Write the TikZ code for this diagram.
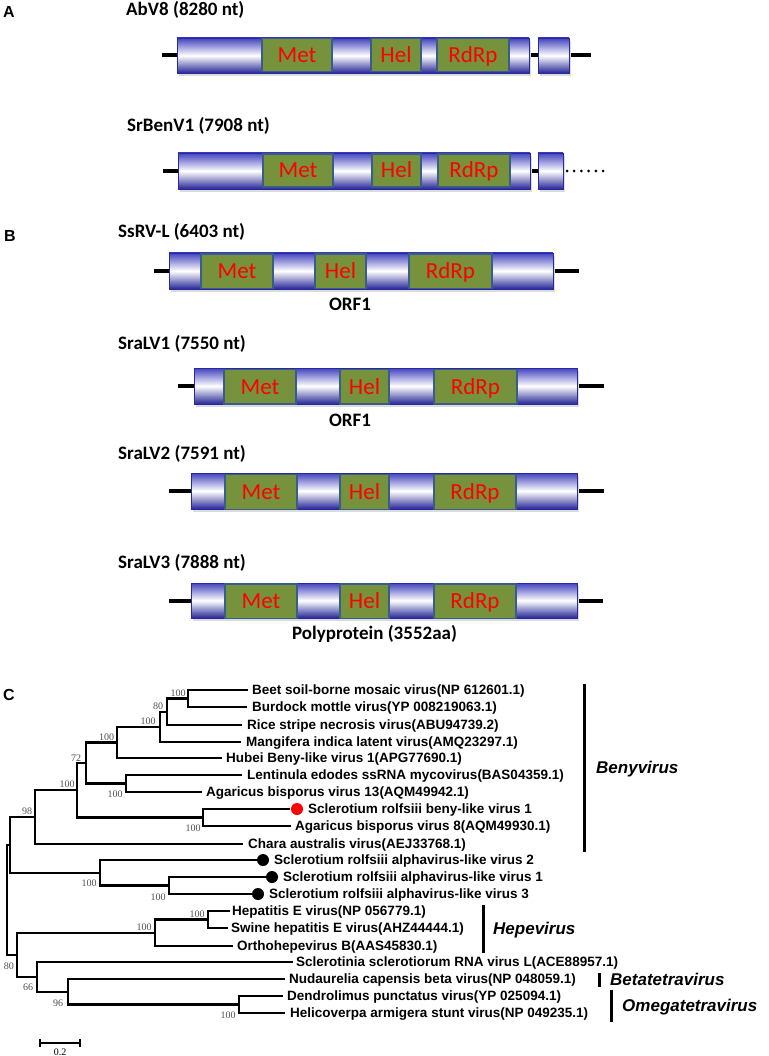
\documentclass[tikz,border=0pt]{standalone}
\usepackage{fontspec}
\newfontfamily\carlito{Carlito}
\newfontfamily\libsans{Liberation Sans}
\newfontfamily\libserif{Liberation Serif}
\definecolor{bartop}{RGB}{66,66,190}
\definecolor{barbot}{RGB}{38,38,150}
\definecolor{baredge}{RGB}{40,40,160}
\definecolor{domgreen}{RGB}{118,146,60}
\definecolor{domedge}{RGB}{56,93,138}
\definecolor{bsgray}{RGB}{80,80,80}
\tikzset{
  lab/.style={font=\carlito\bfseries\fontsize{19}{22}\selectfont, anchor=west, inner sep=0pt, text height=12.2pt, text depth=0pt},
  labc/.style={lab, anchor=center},
  dom/.style={font=\carlito\fontsize{23}{26}\selectfont, text=red, inner sep=0pt, text height=14.8pt, text depth=0pt},
  leaf/.style={font=\libsans\bfseries\fontsize{13.5}{16}\selectfont, anchor=west, inner sep=0pt, text height=9.7pt, text depth=0pt},
  bs/.style={font=\libserif\fontsize{10}{12}\selectfont, text=bsgray, inner sep=0pt},
  clade/.style={font=\libsans\bfseries\itshape\fontsize{17}{20}\selectfont, anchor=west, inner sep=0pt, text height=12.2pt, text depth=0pt},
  panel/.style={font=\libsans\bfseries\fontsize{16}{18}\selectfont, anchor=west, inner sep=0pt, text height=11.5pt, text depth=0pt},
  branch/.style={line width=2.2pt, line join=miter},
  cladebar/.style={line width=3pt},
  genline/.style={line width=4pt},
  greenbox/.style={fill=domgreen, draw=domedge, line width=1.3pt},
  dotr/.style={circle, fill=red, inner sep=0pt, minimum size=12pt},
  dotk/.style={circle, fill=black, inner sep=0pt, minimum size=12pt},
  tinydot/.style={circle, fill=black, inner sep=0pt, minimum size=3pt},
}
\newcommand{\gbar}[4]{%
  \fill[black!14] (#1+2,#3+3) rectangle (#2+2,#4+3);
  \shadedraw[top color=bartop, bottom color=barbot, middle color=white, draw=baredge, line width=0.6pt] (#1,#3) rectangle (#2,#4);}
\newcommand{\dombox}[6]{%
  \draw[greenbox] (#1,#3) rectangle (#2,#4);
  \node[dom] (#6) at ({(#1+#2)/2},{(#3+#4)/2}) {#5};}
\begin{document}
\begin{tikzpicture}[x=1pt,y=-1pt]
\useasboundingbox (0,0) rectangle (768,1056);
\fill[white] (0,0) rectangle (768,1056);

% ---------------- Panel A ----------------
\node[panel] (pA) at (3,12) {A};
\node[lab] (tAbV) at (126,9.5) {AbV8 (8280 nt)};
\coordinate (a1s) at (162,55.5); \coordinate (a1b) at (177,55.5);
\coordinate (a1c) at (529,55.5); \coordinate (a1d) at (538,55.5);
\coordinate (a1e) at (569,55.5); \coordinate (a1f) at (591,55.5);
\draw[genline] (a1s) -- (a1b);
\draw[genline] (a1c) -- (a1d);
\draw[genline] (a1e) -- (a1f);
\gbar{177}{529}{38}{73}
\gbar{538}{569}{38}{73}
\dombox{262}{332}{38.5}{71.5}{Met}{aMet1}
\dombox{371}{421}{38.5}{71.5}{Hel}{aHel1}
\dombox{437}{509}{38.5}{71.5}{RdRp}{aRdRp1}

\node[lab] (tSrBen) at (127,125) {SrBenV1 (7908 nt)};
\coordinate (a2s) at (163,171); \coordinate (a2b) at (178,171);
\coordinate (a2c) at (530,171); \coordinate (a2d) at (538,171);
\draw[genline] (a2s) -- (a2b);
\draw[genline] (a2c) -- (a2d);
\gbar{178}{530}{153}{189}
\gbar{538}{563}{153}{189}
\dombox{263}{333}{154}{187}{Met}{aMet2}
\dombox{372}{421}{154}{187}{Hel}{aHel2}
\dombox{438}{510}{154}{187}{RdRp}{aRdRp2}
\foreach \i/\xx in {1/567,2/574.2,3/581.4,4/588.6,5/595.8,6/603}
  \node[tinydot] (dd\i) at (\xx,171) {};

% ---------------- Panel B ----------------
\node[panel] (pB) at (4,236) {B};
\node[lab] (tSsRV) at (118,231) {SsRV-L (6403 nt)};
\coordinate (b1s) at (154,271); \coordinate (b1b) at (169,271);
\coordinate (b1c) at (553,271); \coordinate (b1d) at (579,271);
\draw[genline] (b1s) -- (b1b);
\draw[genline] (b1c) -- (b1d);
\gbar{169}{553}{253}{289}
\dombox{201}{273}{254}{288.5}{Met}{bMet1}
\dombox{315}{366}{254}{288.5}{Hel}{bHel1}
\dombox{409}{492}{254}{288.5}{RdRp}{bRdRp1}
\node[labc] (orf1a) at (350,304) {ORF1};

\node[lab] (tSra1) at (118,343.5) {SraLV1 (7550 nt)};
\coordinate (b2s) at (178,386); \coordinate (b2b) at (194,386);
\coordinate (b2c) at (577,386); \coordinate (b2d) at (604,386);
\draw[genline] (b2s) -- (b2b);
\draw[genline] (b2c) -- (b2d);
\gbar{194}{577}{368}{404}
\dombox{224}{296}{369.5}{404}{Met}{bMet2}
\dombox{340}{389}{369.5}{404}{Hel}{bHel2}
\dombox{434}{517}{369.5}{404}{RdRp}{bRdRp2}
\node[labc] (orf1b) at (350,420) {ORF1};

\node[lab] (tSra2) at (118,453.5) {SraLV2 (7591 nt)};
\coordinate (b3s) at (169,491); \coordinate (b3b) at (191,491);
\coordinate (b3c) at (577,491); \coordinate (b3d) at (604,491);
\draw[genline] (b3s) -- (b3b);
\draw[genline] (b3c) -- (b3d);
\gbar{191}{577}{473}{509}
\dombox{225}{297}{474.5}{509.5}{Met}{bMet3}
\dombox{340}{389}{474.5}{509.5}{Hel}{bHel3}
\dombox{434}{516}{474.5}{509.5}{RdRp}{bRdRp3}

\node[lab] (tSra3) at (118,562.5) {SraLV3 (7888 nt)};
\coordinate (b4s) at (169,600.5); \coordinate (b4b) at (191,600.5);
\coordinate (b4c) at (577,600.5); \coordinate (b4d) at (603,600.5);
\draw[genline] (b4s) -- (b4b);
\draw[genline] (b4c) -- (b4d);
\gbar{191}{577}{583}{618}
\dombox{225}{297}{584}{618.5}{Met}{bMet4}
\dombox{340}{389}{584}{618.5}{Hel}{bHel4}
\dombox{434}{516}{584}{618.5}{RdRp}{bRdRp4}
\node[labc] (poly) at (374.5,633.5) {Polyprotein (3552aa)};

% ---------------- Panel C ----------------
\node[panel] (pC) at (3,695) {C};

% leaf branch ends
\coordinate (e1) at (248,690);
\coordinate (e2) at (247,707);
\coordinate (e3) at (242,725);
\coordinate (e4) at (241,742);
\coordinate (e5) at (222,758);
\coordinate (e6) at (242,775);
\coordinate (e7) at (202,792);
\coordinate (e8) at (290,809);
\coordinate (e9) at (291,826);
\coordinate (e10) at (243,844);
\coordinate (e11) at (257,860);
\coordinate (e12) at (267,877);
\coordinate (e13) at (253,894);
\coordinate (e14) at (230,911);
\coordinate (e15) at (228,928);
\coordinate (e16) at (233,946);
\coordinate (e17) at (293,962);
\coordinate (e18) at (285,979);
\coordinate (e19) at (283,996);
\coordinate (e20) at (285,1013);

% internal nodes
\coordinate (nBB) at (188,698.5);
\coordinate (nBBR) at (167,711.75);
\coordinate (nBBRM) at (160,726.875);
\coordinate (nH) at (117,742.44);
\coordinate (nLA) at (126,783.5);
\coordinate (nHLA) at (86,762.97);
\coordinate (nSA) at (203,817.5);
\coordinate (nBEN) at (77,790.23);
\coordinate (nCH) at (35,817.12);
\coordinate (nA13) at (169,885.5);
\coordinate (nA) at (100,872.75);
\coordinate (nBA) at (10,844.93);
\coordinate (nHEV) at (208,919.5);
\coordinate (nHEP) at (155,932.75);
\coordinate (nDH) at (239,1004.5);
\coordinate (nN) at (68,991.75);
\coordinate (nT) at (37,976.875);
\coordinate (nHT) at (17,954.81);
\coordinate (root) at (7,899.87);

\draw[branch] (nBB) |- (e1);   \draw[branch] (nBB) |- (e2);
\draw[branch] (nBBR) |- (nBB); \draw[branch] (nBBR) |- (e3);
\draw[branch] (nBBRM) |- (nBBR); \draw[branch] (nBBRM) |- (e4);
\draw[branch] (nH) |- (nBBRM); \draw[branch] (nH) |- (e5);
\draw[branch] (nLA) |- (e6);   \draw[branch] (nLA) |- (e7);
\draw[branch] (nHLA) |- (nH);  \draw[branch] (nHLA) |- (nLA);
\draw[branch] (nSA) |- (e8);   \draw[branch] (nSA) |- (e9);
\draw[branch] (nBEN) |- (nHLA); \draw[branch] (nBEN) |- (nSA);
\draw[branch] (nCH) |- (nBEN); \draw[branch] (nCH) |- (e10);
\draw[branch] (nA13) |- (e12); \draw[branch] (nA13) |- (e13);
\draw[branch] (nA) |- (e11);   \draw[branch] (nA) |- (nA13);
\draw[branch] (nBA) |- (nCH);  \draw[branch] (nBA) |- (nA);
\draw[branch] (nHEV) |- (e14); \draw[branch] (nHEV) |- (e15);
\draw[branch] (nHEP) |- (nHEV); \draw[branch] (nHEP) |- (e16);
\draw[branch] (nDH) |- (e19);  \draw[branch] (nDH) |- (e20);
\draw[branch] (nN) |- (e18);   \draw[branch] (nN) |- (nDH);
\draw[branch] (nT) |- (e17);   \draw[branch] (nT) |- (nN);
\draw[branch] (nHT) |- (nHEP); \draw[branch] (nHT) |- (nT);
\draw[branch] (root) |- (nBA); \draw[branch] (root) |- (nHT);

% leaves
\node[leaf] (l1) at (252,690) {Beet soil-borne mosaic virus(NP 612601.1)};
\node[leaf] (l2) at (252,707) {Burdock mottle virus(YP 008219063.1)};
\node[leaf] (l3) at (247,725) {Rice stripe necrosis virus(ABU94739.2)};
\node[leaf] (l4) at (246,742) {Mangifera indica latent virus(AMQ23297.1)};
\node[leaf] (l5) at (226,758) {Hubei Beny-like virus 1(APG77690.1)};
\node[leaf] (l6) at (247,775) {Lentinula edodes ssRNA mycovirus(BAS04359.1)};
\node[leaf] (l7) at (206,792) {Agaricus bisporus virus 13(AQM49942.1)};
\node[dotr] (d8) at (297,809) {};
\node[leaf] (l8) at (308,809) {Sclerotium rolfsiii beny-like virus 1};
\node[leaf] (l9) at (295,826) {Agaricus bisporus virus 8(AQM49930.1)};
\node[leaf] (l10) at (248,844) {Chara australis virus(AEJ33768.1)};
\node[dotk] (d11) at (263,860) {};
\node[leaf] (l11) at (274,860) {Sclerotium rolfsiii alphavirus-like virus 2};
\node[dotk] (d12) at (272,877) {};
\node[leaf] (l12) at (283,877) {Sclerotium rolfsiii alphavirus-like virus 1};
\node[dotk] (d13) at (258,894) {};
\node[leaf] (l13) at (269,894) {Sclerotium rolfsiii alphavirus-like virus 3};
\node[leaf] (l14) at (232,911) {Hepatitis E virus(NP 056779.1)};
\node[leaf] (l15) at (231,928) {Swine hepatitis E virus(AHZ44444.1)};
\node[leaf] (l16) at (237,946) {Orthohepevirus B(AAS45830.1)};
\node[leaf] (l17) at (296,962) {Sclerotinia sclerotiorum RNA virus L(ACE88957.1)};
\node[leaf] (l18) at (289,979) {Nudaurelia capensis beta virus(NP 048059.1)};
\node[leaf] (l19) at (287,996) {Dendrolimus punctatus virus(YP 025094.1)};
\node[leaf] (l20) at (290,1013) {Helicoverpa armigera stunt virus(NP 049235.1)};

% bootstrap values
\node[bs] (bBB) at (178,693) {100};
\node[bs] (bBBR) at (158,706) {80};
\node[bs] (bBBRM) at (148,721) {100};
\node[bs] (bH) at (106.5,737) {100};
\node[bs] (bLA) at (115,794) {100};
\node[bs] (bHLA) at (76,758) {72};
\node[bs] (bSA) at (193,828) {100};
\node[bs] (bBEN) at (67,784) {100};
\node[bs] (bCH) at (27,811) {98};
\node[bs] (bA) at (89,883) {100};
\node[bs] (bA13) at (158,897) {100};
\node[bs] (bHEV) at (197,914) {100};
\node[bs] (bHEP) at (144,927) {100};
\node[bs] (bHT) at (9,966) {80};
\node[bs] (bT) at (28,987) {66};
\node[bs] (bN) at (58,1003) {96};
\node[bs] (bDH) at (228,1015) {100};

% clade bars
\coordinate (cb1t) at (584,684); \coordinate (cb1b) at (584,852);
\draw[cladebar] (cb1t) -- (cb1b);
\node[clade] (cBeny) at (596,767) {Benyvirus};
\coordinate (cb2t) at (483,905); \coordinate (cb2b) at (483,953);
\draw[cladebar] (cb2t) -- (cb2b);
\node[clade] (cHepe) at (493,928) {Hepevirus};
\coordinate (cb3t) at (599,973); \coordinate (cb3b) at (599,987);
\draw[cladebar] (cb3t) -- (cb3b);
\node[clade] (cBeta) at (610,979) {Betatetravirus};
\coordinate (cb4t) at (611,990); \coordinate (cb4b) at (611,1022);
\draw[cladebar] (cb4t) -- (cb4b);
\node[clade] (cOmega) at (622,1005) {Omegatetravirus};

% scale bar
\coordinate (sb1) at (40,1043); \coordinate (sb2) at (80,1043);
\draw[line width=1.5pt] (sb1) -- (sb2);
\draw[line width=1.5pt] ([yshift=4pt]sb1) -- ([yshift=-4pt]sb1);
\draw[line width=1.5pt] ([yshift=4pt]sb2) -- ([yshift=-4pt]sb2);
\node[bs, text=black] (sbl) at (60,1052) {0.2};
\end{tikzpicture}
\end{document}
